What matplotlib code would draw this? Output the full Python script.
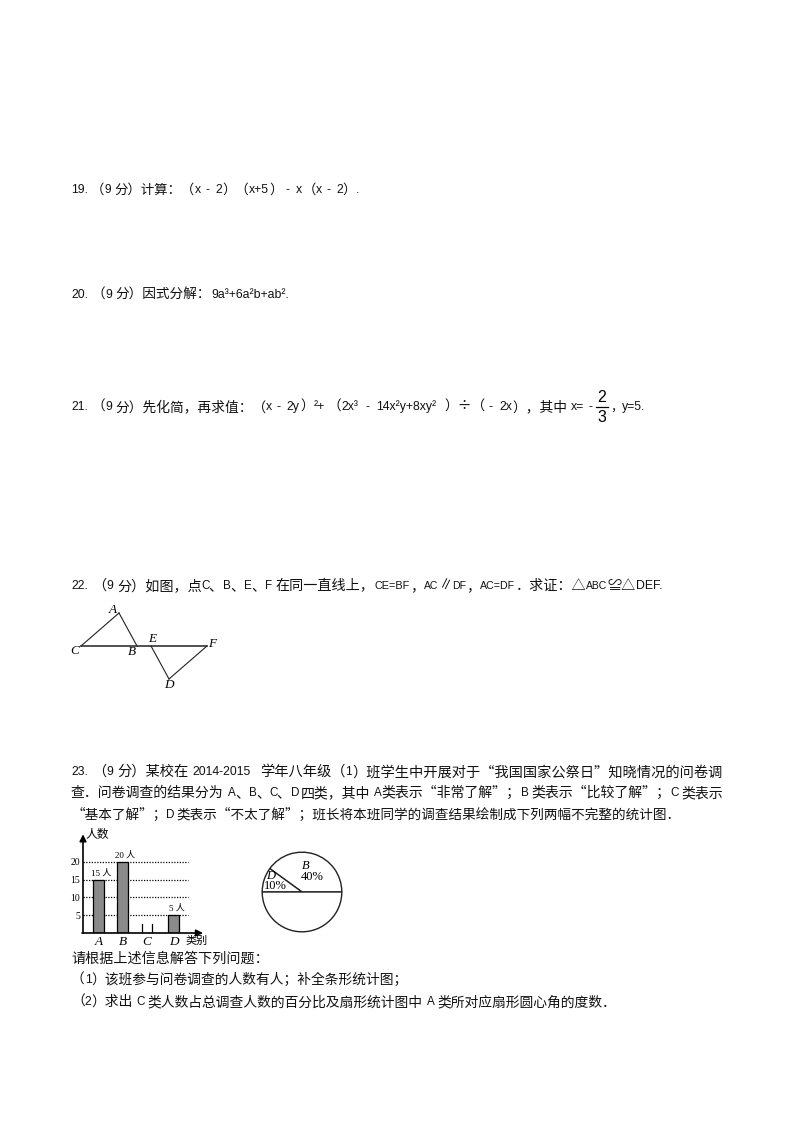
import matplotlib
matplotlib.use('Agg')
import matplotlib.pyplot as plt

# bar chart data
categories = ['A', 'B', 'C', 'D']
counts = [15, 20, 0, 5]
count_labels = ['15 人', '20 人', '', '5 人']
y_ticks = [5, 10, 15, 20]

# pie chart data
pie_values = [40, 10, 50]
pie_names = ['B', 'D', '']
pie_percent = ['40%', '10%', '']

# triangle figure, page pixels
tri_names = ['C', 'A', 'B', 'E', 'F', 'D']
tri_x = [81, 119, 137, 151, 207, 169]
tri_y = [646, 613, 646, 646, 646, 679]

# x start, x end, y, text
lines = [
    (71, 363, 190, '19.（9 分）计算：（x - 2）（x+5） - x（x - 2）.'),
    (71, 300, 295, '20.（9 分）因式分解：9a³+6a²b+ab².'),
    (71, 595, 407, '21.（9 分）先化简，再求值：（x - 2y）²+（2x³ - 14x²y+8xy²）÷（ - 2x），其中 x= -'),
    (610, 647, 407, '，y=5.'),
    (71, 664, 586, '22.（9 分）如图，点C、B、E、F 在同一直线上，CE=BF，AC∥DF，AC=DF．求证：△ABC≌△DEF.'),
    (71, 723, 772, '23.（9 分）某校在 2014-2015 学年八年级（1）班学生中开展对于“我国国家公祭日”知晓情况的问卷调'),
    (71, 723, 793, '查．问卷调查的结果分为 A、B、C、D 四类，其中 A类表示“非常了解”；B 类表示“比较了解”；C 类表示'),
    (71, 678, 815, '“基本了解”；D 类表示“不太了解”；班长将本班同学的调查结果绘制成下列两幅不完整的统计图．'),
    (71, 268, 959, '请根据上述信息解答下列问题：'),
    (71, 408, 980, '（1）该班参与问卷调查的人数有人；补全条形统计图；'),
    (71, 617, 1002, '（2）求出 C 类人数占总调查人数的百分比及扇形统计图中 A 类所对应扇形圆心角的度数．'),
]

W, H = 794, 1123
CJK = 'Noto Sans CJK SC'
SANS = 'Liberation Sans'
SERIF = 'Liberation Serif'
plt.rcParams['font.family'] = [SANS, CJK, 'DejaVu Sans']

fig = plt.figure(figsize=(W / 100, H / 100), dpi=100)
renderer = fig.canvas.get_renderer()

page = fig.add_axes([0, 0, 1, 1])
page.set_xlim(0, W)
page.set_ylim(H, 0)
page.axis('off')
page.set_zorder(5)


def kind(c):
    if c == ' ':
        return 0
    return 1 if ord(c) < 0x250 and c != '÷' else 2


def split_runs(s):
    runs = []
    for c in s:
        if runs and kind(runs[-1][-1]) == kind(c):
            runs[-1] += c
        else:
            runs.append(c)
    return runs


# the page font has half width latin and thin spaces, so each run is placed on its own
def draw_line(x0, x1, y, s):
    units = sum([0.5, 1, 2][kind(c)] for c in s)
    cell = min((x1 - x0) / units, 7.2)
    x = x0
    for run in split_runs(s):
        k = kind(run[0])
        width = len(run) * [0.5, 1, 2][k] * cell
        if k == 1:
            t = page.text(x, y, run, fontsize=8.8, family=SANS, va='center', ha='left', color='#111111')
            used = t.get_window_extent(renderer).width
            if used > width:
                floor = 0.95 if len(run) == 1 else 0.85
                t.set_fontsize(8.8 * max(width / used, floor))
        elif k == 2:
            page.text(x, y, run, fontsize=2 * cell * 0.72, family=CJK, va='center', ha='left', color='#111111')
        x += width


for x0, x1, y, s in lines:
    draw_line(x0, x1, y, s)

# fraction in question 21
page.text(602, 397, '2', fontsize=11.5, ha='center', va='center', family=SANS)
page.plot([596, 608], [407, 407], color='k', lw=0.9)
page.text(602, 418, '3', fontsize=11.5, ha='center', va='center', family=SANS)

# triangle figure
pts = dict(zip(tri_names, zip(tri_x, tri_y)))
for a, b in [('C', 'A'), ('A', 'B'), ('C', 'F'), ('E', 'D'), ('D', 'F')]:
    lw = 1.1 if (a, b) == ('C', 'F') else 0.8
    page.plot([pts[a][0], pts[b][0]], [pts[a][1], pts[b][1]], color='#222222', lw=lw)
tri_off = {'C': (-6, 5), 'A': (-6, -3), 'B': (-5, 6), 'E': (1, -7), 'F': (5, -2), 'D': (0, 6)}
for n in tri_names:
    page.text(pts[n][0] + tri_off[n][0], pts[n][1] + tri_off[n][1], n, fontsize=9.5,
              family=SERIF, style='italic', ha='center', va='center')


def px_axes(left, top, right, bottom):
    return fig.add_axes([left / W, 1 - bottom / H, (right - left) / W, (bottom - top) / H])


# bar chart
ax = px_axes(83, 835, 201, 933)
ax.set_xlim(83, 201)
ax.set_ylim(0, 27.6)
ax.patch.set_alpha(0)
bar_pos = [98.3, 122.5, 147, 173.5]
bar_w = [10.5, 11.5, 10.5, 11]
for v in y_ticks:
    ax.plot([83, 188], [v, v], color='k', lw=0.9, ls=(0, (1, 1.2)), zorder=1)
ax.bar(bar_pos, counts, width=bar_w, color='#8a8a8a', edgecolor='k', lw=0.9, zorder=2)
# category C is left open, only the two side marks are drawn
for dx in [-5.2, 5.2]:
    ax.plot([bar_pos[2] + dx] * 2, [0, 2.6], color='k', lw=0.9, zorder=2)
for p, c, s in zip(bar_pos, counts, count_labels):
    if s:
        ax.text(p + 3, c + 0.6, s, fontsize=6.5, ha='center', va='bottom', family=[SERIF, CJK])
for spine in ['top', 'right', 'left', 'bottom']:
    ax.spines[spine].set_visible(False)
ax.annotate('', xy=(83, 27.8), xytext=(83, 0), annotation_clip=False,
            arrowprops=dict(arrowstyle='-|>', color='k', lw=1.2, mutation_scale=10, shrinkA=0, shrinkB=0))
ax.annotate('', xy=(203, 0), xytext=(82, 0), annotation_clip=False,
            arrowprops=dict(arrowstyle='-|>', color='k', lw=1.2, mutation_scale=10, shrinkA=0, shrinkB=0))
ax.set_xticks(bar_pos)
ax.set_xticklabels(categories, fontsize=9.5, family=SERIF, style='italic')
ax.set_yticks(y_ticks)
ax.set_yticklabels(y_ticks, fontsize=7, family=SERIF)
ax.tick_params(length=0, pad=2)
page.text(97, 834, '人数', fontsize=8.5, ha='center', va='center', family=CJK)
page.text(197, 941, '类别', fontsize=8, ha='center', va='center', family=CJK)

# pie chart
pie_ax = px_axes(261, 851, 343, 933)
pie_ax.pie(pie_values, startangle=0, counterclock=True, radius=1,
           colors=['white'] * 3, wedgeprops=dict(edgecolor='#222222', lw=1.0))
pie_ax.set_xlim(-1.03, 1.03)
pie_ax.set_ylim(-1.03, 1.03)
page.text(306, 866, pie_names[0], fontsize=9, family=SERIF, style='italic', ha='center', va='center')
page.text(312, 877, pie_percent[0], fontsize=9, family=SERIF, ha='center', va='center')
page.text(271, 876, pie_names[1], fontsize=9, family=SERIF, style='italic', ha='center', va='center')
page.text(275, 886, pie_percent[1], fontsize=9, family=SERIF, ha='center', va='center')

fig.savefig('out.png', dpi=100)
